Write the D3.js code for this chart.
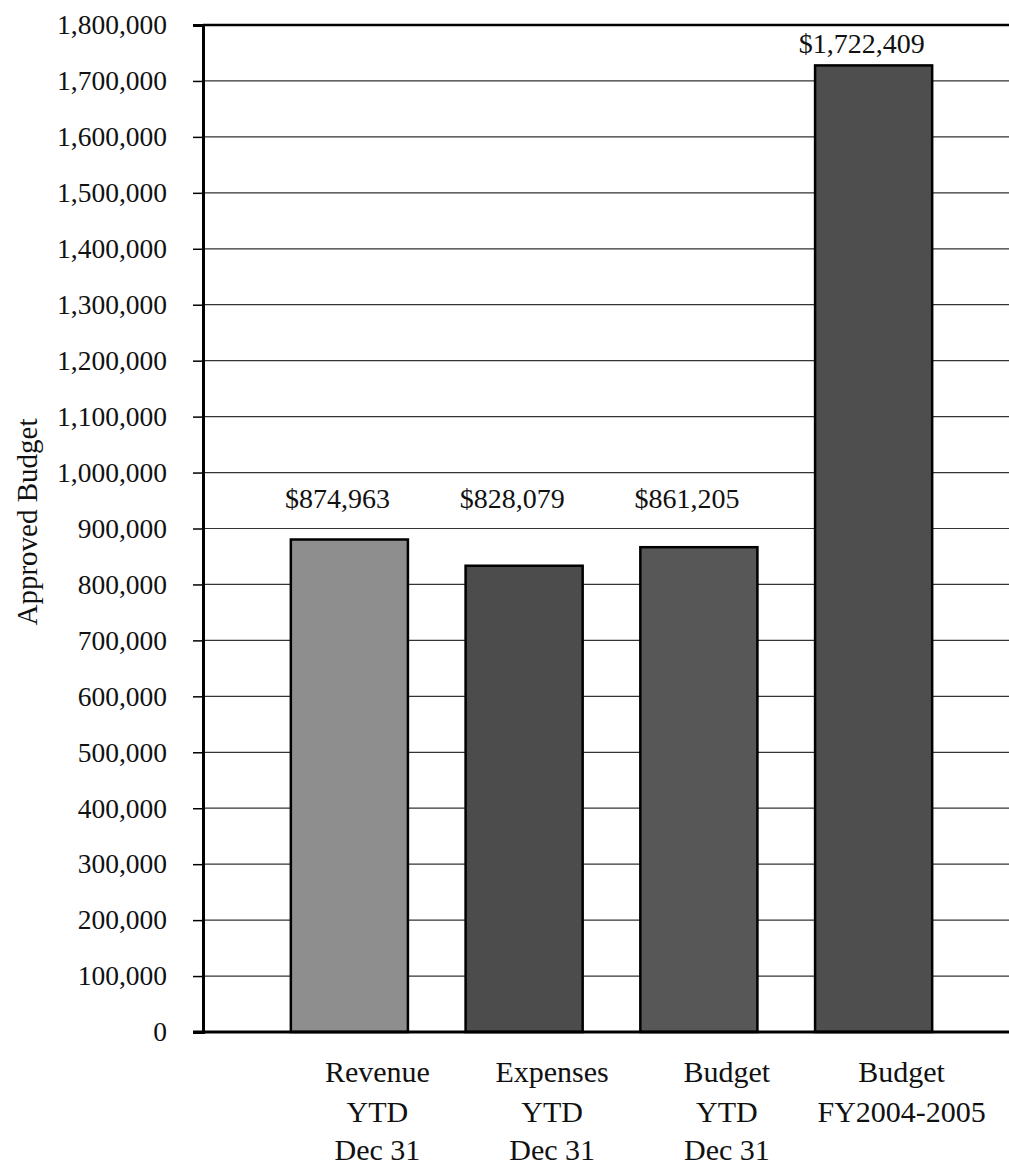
<!DOCTYPE html>
<html>
<head>
<meta charset="utf-8">
<script src="https://cdn.jsdelivr.net/npm/d3@7"></script>
<style>
  html, body { margin: 0; padding: 0; background: #fff; }
  svg { display: block; }
</style>
</head>
<body>
<svg id="chart" width="1009" height="1171"></svg>
<script>
const categories = ["Revenue YTD Dec 31", "Expenses YTD Dec 31", "Budget YTD Dec 31", "Budget FY2004-2005"];
const categoryLines = [["Revenue", "YTD", "Dec 31"], ["Expenses", "YTD", "Dec 31"], ["Budget", "YTD", "Dec 31"], ["Budget", "FY2004-2005"]];
const values = [874963, 828079, 861205, 1722409];
const valueLabels = ["$874,963", "$828,079", "$861,205", "$1,722,409"];
const barColors = ["#8e8e8e", "#4c4c4c", "#575757", "#4e4e4e"];
const yTicks = d3.range(0, 1800001, 100000);
const yTitle = "Approved Budget";

const FONT = "'Liberation Serif'";
const svg = d3.select("#chart");
const plotLeft = 203, plotRight = 1009, plotTop = 25, plotBottom = 1032;

const y = d3.scaleLinear().domain([0, 1800000]).range([plotBottom, plotTop]);
const x = d3.scaleBand().domain(categories).range([262, 961]).paddingInner(0.33).paddingOuter(0.165);

// gridlines
svg.append("g").selectAll("line").data(yTicks.filter(t => t > 0)).join("line")
  .attr("x1", plotLeft).attr("x2", plotRight)
  .attr("y1", d => y(d)).attr("y2", d => y(d))
  .attr("stroke", d => d === 1800000 ? "#000" : "#333")
  .attr("stroke-width", d => d === 1800000 ? 2.5 : 1.2);

// bars
svg.append("g").selectAll("rect").data(values).join("rect")
  .attr("x", (d, i) => x(categories[i]))
  .attr("width", x.bandwidth())
  .attr("y", d => y(d) - 3)
  .attr("height", d => plotBottom - y(d) + 3)
  .attr("fill", (d, i) => barColors[i])
  .attr("stroke", "#000")
  .attr("stroke-width", 2.5);

// value labels
svg.append("g").selectAll("text").data(values).join("text")
  .attr("x", (d, i) => x(categories[i]) + x.bandwidth() / 2 - 12)
  .attr("y", d => y(Math.max(d, 910000)) - 15)
  .attr("text-anchor", "middle")
  .attr("font-family", FONT)
  .attr("font-size", 28)
  .attr("fill", "#111")
  .text((d, i) => valueLabels[i]);

// y axis
const yAxis = d3.axisLeft(y).tickValues(yTicks).tickSize(10).tickPadding(26)
  .tickFormat(d3.format(","));
const gy = svg.append("g").attr("transform", `translate(${plotLeft},0)`).call(yAxis);
gy.attr("font-family", FONT).attr("font-size", 27.5);
gy.select(".domain").attr("stroke", "#000").attr("stroke-width", 3);
gy.selectAll(".tick line").attr("stroke", "#000").attr("stroke-width", 1.5);
gy.selectAll(".tick text").attr("fill", "#111");

// x baseline
svg.append("line").attr("x1", 193).attr("x2", plotRight)
  .attr("y1", plotBottom).attr("y2", plotBottom)
  .attr("stroke", "#000").attr("stroke-width", 3);

// x category labels
const lineYs = [1082, 1122, 1160];
const xl = svg.append("g").selectAll("text").data(categories).join("text")
  .attr("text-anchor", "middle")
  .attr("font-family", FONT)
  .attr("font-size", 30)
  .attr("fill", "#111")
  .attr("transform", d => `translate(${x(d) + x.bandwidth() / 2 + 28},0)`);
xl.each(function(d, i) {
  d3.select(this).selectAll("tspan").data(categoryLines[i]).join("tspan")
    .attr("x", 0).attr("y", (t, j) => lineYs[j]).text(t => t);
});

// y title
svg.append("text")
  .attr("transform", `translate(37,522) rotate(-90)`)
  .attr("text-anchor", "middle")
  .attr("font-family", FONT)
  .attr("font-size", 29)
  .attr("fill", "#111")
  .text(yTitle);
</script>
</body>
</html>
